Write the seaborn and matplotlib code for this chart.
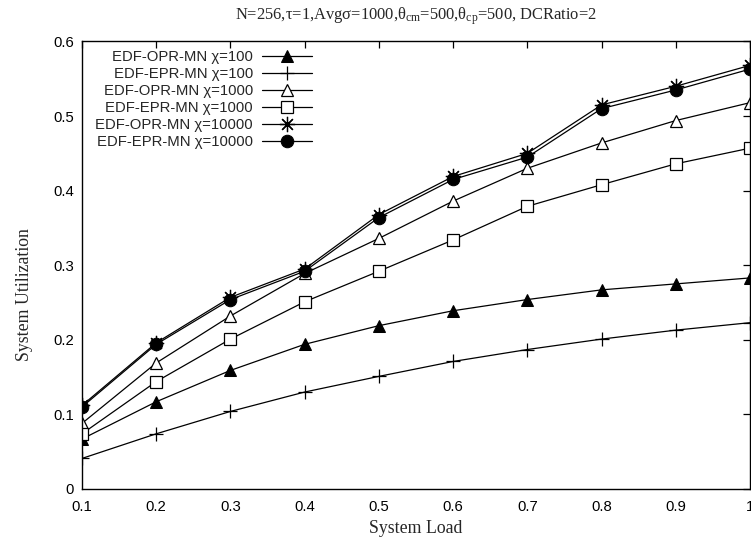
import matplotlib
matplotlib.use("Agg")
import matplotlib.pyplot as plt
import seaborn as sns
import pandas as pd

# System load levels
load = [0.1, 0.2, 0.3, 0.4, 0.5, 0.6, 0.7, 0.8, 0.9, 1.0]

# System utilization for each algorithm / chi setting
opr_100 = [0.067, 0.117, 0.159, 0.194, 0.219, 0.239, 0.254, 0.267, 0.275, 0.283]
epr_100 = [0.041, 0.074, 0.104, 0.130, 0.151, 0.171, 0.187, 0.201, 0.213, 0.223]
opr_1000 = [0.088, 0.169, 0.232, 0.289, 0.336, 0.386, 0.430, 0.464, 0.494, 0.518]
epr_1000 = [0.074, 0.144, 0.201, 0.251, 0.292, 0.334, 0.379, 0.408, 0.436, 0.457]
opr_10000 = [0.112, 0.196, 0.257, 0.295, 0.368, 0.419, 0.450, 0.515, 0.540, 0.568]
epr_10000 = [0.110, 0.194, 0.254, 0.292, 0.364, 0.415, 0.445, 0.510, 0.535, 0.563]

series_labels = [
    "EDF-OPR-MN χ=100",
    "EDF-EPR-MN χ=100",
    "EDF-OPR-MN χ=1000",
    "EDF-EPR-MN χ=1000",
    "EDF-OPR-MN χ=10000",
    "EDF-EPR-MN χ=10000",
]
series_values = [opr_100, epr_100, opr_1000, epr_1000, opr_10000, epr_10000]

x_ticks = [0.1, 0.2, 0.3, 0.4, 0.5, 0.6, 0.7, 0.8, 0.9, 1.0]
x_ticklabels = ["0.1", "0.2", "0.3", "0.4", "0.5", "0.6", "0.7", "0.8", "0.9", "1"]
y_ticks = [0, 0.1, 0.2, 0.3, 0.4, 0.5, 0.6]
y_ticklabels = ["0", "0.1", "0.2", "0.3", "0.4", "0.5", "0.6"]

title = (r"N=256,τ=1,Avgσ=1000,θ$_{\rm cm}$=500,θ$_{\rm cp}$=500, DCRatio=2")

sns.set_theme(style="white")
plt.rcParams["font.family"] = ["Liberation Sans", "DejaVu Sans"]
plt.rcParams["mathtext.fontset"] = "custom"
plt.rcParams["mathtext.rm"] = "Liberation Serif"
plt.rcParams["mathtext.it"] = "Liberation Serif:italic"

styles = [
    dict(marker="^", markerfacecolor="black", markersize=8),
    dict(marker="+", markersize=10, markeredgewidth=0.9),
    dict(marker="^", markerfacecolor="white", markersize=9, markeredgewidth=0.9),
    dict(marker="s", markerfacecolor="white", markersize=9, markeredgewidth=0.9),
    dict(marker=(8, 2, 0), markersize=11, markeredgewidth=0.9),
    dict(marker="o", markerfacecolor="black", markersize=9),
]

fig = plt.figure(figsize=(7.51, 5.37), dpi=100)
ax = fig.add_axes([82 / 751, 48 / 537, 668 / 751, 447.5 / 537])

for label, vals, st in zip(series_labels, series_values, styles):
    df = pd.DataFrame({"load": load, "util": vals})
    sns.lineplot(data=df, x="load", y="util", ax=ax, color="black",
                 linewidth=0.9, markeredgecolor="black", label=label, **st)

ax.set_xlim(0.1, 1.0)
ax.set_ylim(0, 0.6)
ax.set_xticks(x_ticks)
ax.set_xticklabels(x_ticklabels)
ax.set_yticks(y_ticks)
ax.set_yticklabels(y_ticklabels)
ax.tick_params(direction="in", length=5, width=0.9, top=True, right=True,
               labelsize=10.7, colors="black", pad=6)
ax.tick_params(axis="x", pad=8, labeltop=False)
ax.tick_params(axis="y", labelright=False)
for sp in ax.spines.values():
    sp.set_color("black")
    sp.set_linewidth(1.0)

serif = ["Liberation Serif", "DejaVu Serif"]
ax.set_xlabel("System Load", family=serif, fontsize=12.8, labelpad=4)
ax.set_ylabel("System Utilization", family=serif, fontsize=12.8)
ax.yaxis.set_label_coords(-0.073, 0.434)
ax.set_title(title, family=serif, fontsize=11.9, pad=16)

leg = ax.legend(loc="upper right", bbox_to_anchor=(0.345, 0.98),
                frameon=False, markerfirst=False, fontsize=10.7,
                handlelength=3.4, handletextpad=0.6, labelspacing=0.2,
                borderpad=0, borderaxespad=0)

fig.savefig("out.png", dpi=100)
